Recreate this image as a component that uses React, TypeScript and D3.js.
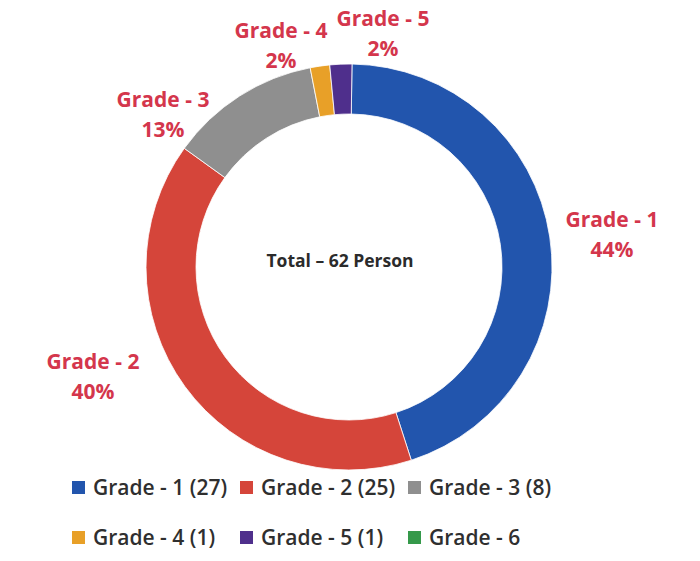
import React from "react";
import * as d3 from "d3";

const categories = ["Grade - 1", "Grade - 2", "Grade - 3", "Grade - 4", "Grade - 5", "Grade - 6"];
const counts = [27, 25, 8, 1, 1, 0];
// slice shares as drawn in the picture (percent of the ring)
const sliceShares = [44.8, 39.9, 12.0, 1.55, 1.75, 0];
const percentLabels = ["44%", "40%", "13%", "2%", "2%", ""];
const legendLabels = ["Grade - 1 (27)", "Grade - 2 (25)", "Grade - 3 (8)", "Grade - 4 (1)", "Grade - 5 (1)", "Grade - 6"];
const colors = ["#2255ad", "#d5453a", "#8f8f8f", "#e8a028", "#4f2f8c", "#35994a"];
const centerText = "Total \u2013 62 Person";

// label anchor positions (annotation layout)
const labelPos: [number, number][] = [
  [612, 227],
  [93, 369],
  [163, 107],
  [281, 38],
  [383, 26],
];

const W = 700;
const H = 561;
const cx = 349;
const cy = 267;
const outerR = 203;
const innerR = 153;
const startDeg = 0.85;

export default function App() {
  const start = (startDeg * Math.PI) / 180;
  const pie = d3
    .pie<number>()
    .sort(null)
    .value((d) => d)
    .startAngle(start)
    .endAngle(start + 2 * Math.PI);
  const arcs = pie(sliceShares);
  const arc = d3.arc<d3.PieArcDatum<number>>().innerRadius(innerR).outerRadius(outerR);
  const font = "'Open Sans', 'Liberation Sans', sans-serif";

  const legendCols = [72, 240, 408];
  const legendRows = [487, 537];

  return (
    <svg width={W} height={H} style={{ position: "absolute", left: 0, top: 0, background: "#fff" }}>
      <g transform={`translate(${cx},${cy})`}>
        {arcs.map((a, i) =>
          a.value > 0 ? (
            <path key={i} d={arc(a) || ""} fill={colors[i]} stroke="#ffffff" strokeWidth={0.8}>
              <title>{`${categories[i]}: ${counts[i]}`}</title>
            </path>
          ) : null
        )}
      </g>
      <text
        x={340}
        y={260}
        textAnchor="middle"
        dominantBaseline="central"
        fontFamily={font}
        fontWeight={700}
        fontSize={17.5}
        fill="#2b2b2b"
      >
        {centerText}
      </text>
      {labelPos.map((p, i) => (
        <g key={i} fontFamily={font} fontWeight={700} fontSize={21} fill="#d4364c" textAnchor="middle">
          <text x={p[0]} y={p[1]}>{categories[i]}</text>
          <text x={p[0]} y={p[1] + 30}>{percentLabels[i]}</text>
        </g>
      ))}
      {legendLabels.map((l, i) => {
        const x = legendCols[i % 3];
        const y = legendRows[Math.floor(i / 3)];
        return (
          <g key={i}>
            <rect x={x} y={y - 6} width={13} height={13} fill={colors[i]} />
            <text
              x={x + 21}
              y={y}
              dominantBaseline="central"
              fontFamily={font}
              fontWeight={600}
              fontSize={21}
              fill="#2f2f2f"
            >
              {l}
            </text>
          </g>
        );
      })}
    </svg>
  );
}
